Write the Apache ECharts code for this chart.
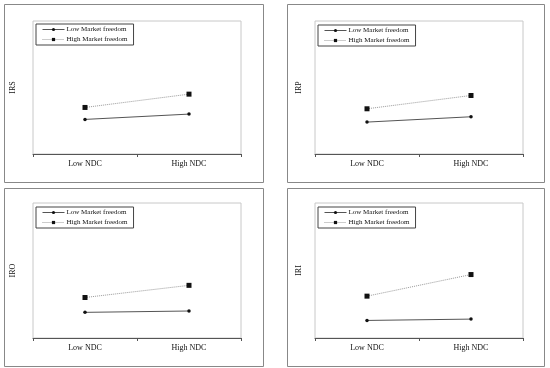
<!DOCTYPE html>
<html><head><meta charset="utf-8">
<script src="https://cdn.jsdelivr.net/npm/echarts@6/dist/echarts.min.js"></script>
<style>html,body{margin:0;padding:0;background:#fff}#c{width:550px;height:368px}</style>
</head><body><div id="c"></div>
<script>
var categories = ['Low NDC', 'High NDC'];
var panelNames = ['IRS', 'IRP', 'IRO', 'IRI'];
var seriesNames = ['Low Market freedom', 'High Market freedom'];
var irsLow = [0.26, 0.30], irsHigh = [0.35, 0.45];
var irpLow = [0.24, 0.28], irpHigh = [0.34, 0.44];
var iroLow = [0.19, 0.20], iroHigh = [0.30, 0.39];
var iriLow = [0.13, 0.14], iriHigh = [0.31, 0.47];
var lowData = [irsLow, irpLow, iroLow, iriLow];
var highData = [irsHigh, irpHigh, iroHigh, iriHigh];

var FONT = 'Liberation Serif';
var grids = [
  {left: 33, top: 21, width: 208, height: 133},
  {left: 315, top: 21, width: 208, height: 133},
  {left: 33, top: 203, width: 208, height: 135},
  {left: 315, top: 203, width: 208, height: 135}
];
var frames = [[4,4,259,178],[287,4,257,178],[4,188,259,178],[287,188,257,178]];
var legendPos = [[36,24],[318,25],[36,207],[318,207]];
var nameGaps = [16, 12, 16, 12];

var option = {
  backgroundColor: '#fff',
  animation: false,
  grid: grids.map(function(g){ return Object.assign({show: true, borderColor: '#c8c8c8', borderWidth: 1, containLabel: false}, g); }),
  xAxis: grids.map(function(g, i){ return {
    type: 'category', gridIndex: i, data: categories, boundaryGap: true,
    axisLine: {lineStyle: {color: '#555', width: 1}},
    axisTick: {show: true, inside: false, length: 3, lineStyle: {color: '#555'}},
    axisLabel: {fontFamily: FONT, fontSize: 8, color: '#111', margin: 6},
    splitLine: {show: false}
  }; }),
  yAxis: grids.map(function(g, i){ return {
    type: 'value', gridIndex: i, min: 0, max: 1,
    name: panelNames[i], nameLocation: 'middle', nameGap: nameGaps[i], nameRotate: 90,
    nameTextStyle: {fontFamily: FONT, fontSize: 8, color: '#111'},
    axisLine: {show: false}, axisTick: {show: false}, axisLabel: {show: false}, splitLine: {show: false}
  }; }),
  legend: legendPos.map(function(p){ return {
    data: seriesNames, orient: 'vertical', left: p[0], top: p[1],
    itemWidth: 22, itemHeight: 4, itemGap: 3, padding: [2, 6, 2, 6],
    borderColor: '#444', borderWidth: 1, selectedMode: false,
    lineStyle: {width: 1},
    textStyle: {fontFamily: FONT, fontSize: 7, color: '#111', padding: [0,0,0,-3]}
  }; }),
  graphic: frames.map(function(f){ return {
    type: 'rect', shape: {x: f[0] + 0.5, y: f[1] + 0.5, width: f[2], height: f[3]},
    style: {fill: 'none', stroke: '#888', lineWidth: 1}, silent: true, z: -1
  }; }),
  series: []
};
for (var i = 0; i < 4; i++) {
  option.series.push({
    name: seriesNames[0], type: 'line', xAxisIndex: i, yAxisIndex: i, data: lowData[i],
    symbol: 'circle', symbolSize: 3.5,
    itemStyle: {color: '#111'}, lineStyle: {color: '#555', width: 1, type: 'solid'}
  });
  option.series.push({
    name: seriesNames[1], type: 'line', xAxisIndex: i, yAxisIndex: i, data: highData[i],
    symbol: 'rect', symbolSize: 5,
    itemStyle: {color: '#111'}, lineStyle: {color: '#999', width: 1, type: 'dotted'}
  });
}
var chart = echarts.init(document.getElementById('c'), null, {renderer: 'canvas'});
chart.setOption(option);
</script></body></html>
